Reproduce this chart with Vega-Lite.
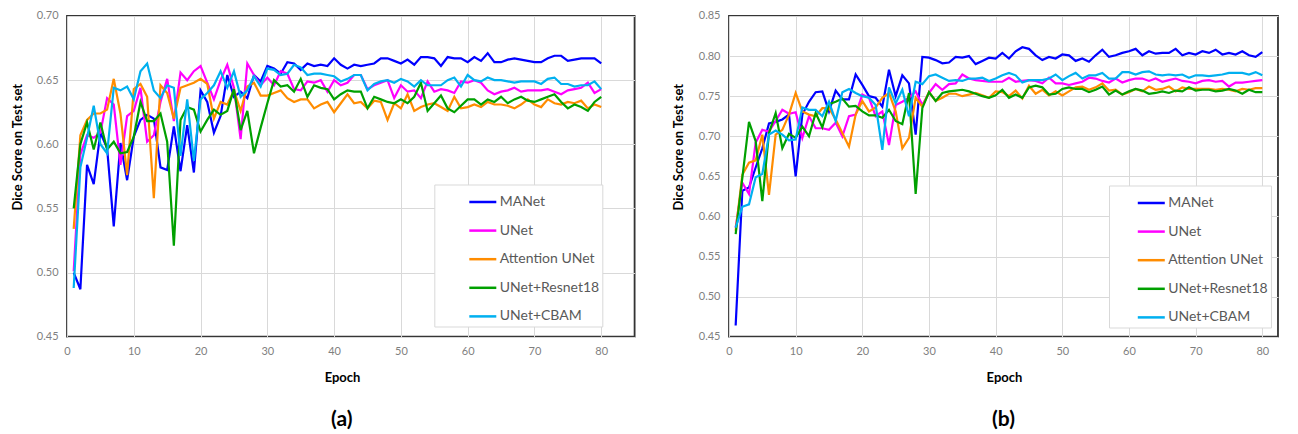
{
"$schema":"https://vega.github.io/schema/vega-lite/v6.json",
"padding":{"left":10,"top":9,"right":0,"bottom":0},
"spacing":36,
"config":{
 "font":"Lato",
 "view":{"stroke":"#333333","strokeWidth":1.8},
 "axis":{"grid":true,"gridColor":"#d9d9d9","gridWidth":1,"domain":false,"ticks":false,"tickSize":0,"labelColor":"#7f7f7f","labelFontSize":11,"labelFont":"Lato","titleFont":"Lato","titleFontWeight":"bold","titleColor":"#000000","titleFontSize":13,"labelOverlap":false,"labelFlush":false},
 "legend":{"orient":"none","title":null,"symbolType":"stroke","symbolSize":729,"symbolStrokeWidth":2.5,"labelFontSize":14,"labelColor":"#595959","labelFont":"Lato","strokeColor":"#d9d9d9","fillColor":"white","padding":2.5,"rowPadding":6.6},
 "title":{"orient":"bottom","fontSize":21,"fontWeight":"bold","color":"#000000","font":"Lato","offset":24}
},
"datasets":{
"a":[
{"e":1,"s":"MANet","v":0.500},{"e":2,"s":"MANet","v":0.487},{"e":3,"s":"MANet","v":0.584},{"e":4,"s":"MANet","v":0.569},{"e":5,"s":"MANet","v":0.609},{"e":6,"s":"MANet","v":0.597},{"e":7,"s":"MANet","v":0.536},{"e":8,"s":"MANet","v":0.601},{"e":9,"s":"MANet","v":0.572},{"e":10,"s":"MANet","v":0.606},
{"e":11,"s":"MANet","v":0.619},{"e":12,"s":"MANet","v":0.623},{"e":13,"s":"MANet","v":0.620},{"e":14,"s":"MANet","v":0.582},{"e":15,"s":"MANet","v":0.580},{"e":16,"s":"MANet","v":0.614},{"e":17,"s":"MANet","v":0.579},{"e":18,"s":"MANet","v":0.615},{"e":19,"s":"MANet","v":0.578},{"e":20,"s":"MANet","v":0.642},
{"e":21,"s":"MANet","v":0.633},{"e":22,"s":"MANet","v":0.609},{"e":23,"s":"MANet","v":0.622},{"e":24,"s":"MANet","v":0.654},{"e":25,"s":"MANet","v":0.637},{"e":26,"s":"MANet","v":0.641},{"e":27,"s":"MANet","v":0.636},{"e":28,"s":"MANet","v":0.654},{"e":29,"s":"MANet","v":0.649},{"e":30,"s":"MANet","v":0.661},
{"e":31,"s":"MANet","v":0.659},{"e":32,"s":"MANet","v":0.655},{"e":33,"s":"MANet","v":0.664},{"e":34,"s":"MANet","v":0.663},{"e":35,"s":"MANet","v":0.658},{"e":36,"s":"MANet","v":0.663},{"e":37,"s":"MANet","v":0.661},{"e":38,"s":"MANet","v":0.662},{"e":39,"s":"MANet","v":0.661},{"e":40,"s":"MANet","v":0.667},
{"e":41,"s":"MANet","v":0.662},{"e":42,"s":"MANet","v":0.659},{"e":43,"s":"MANet","v":0.662},{"e":44,"s":"MANet","v":0.661},{"e":45,"s":"MANet","v":0.662},{"e":46,"s":"MANet","v":0.663},{"e":47,"s":"MANet","v":0.667},{"e":48,"s":"MANet","v":0.667},{"e":49,"s":"MANet","v":0.665},{"e":50,"s":"MANet","v":0.663},
{"e":51,"s":"MANet","v":0.666},{"e":52,"s":"MANet","v":0.662},{"e":53,"s":"MANet","v":0.668},{"e":54,"s":"MANet","v":0.668},{"e":55,"s":"MANet","v":0.667},{"e":56,"s":"MANet","v":0.661},{"e":57,"s":"MANet","v":0.668},{"e":58,"s":"MANet","v":0.667},{"e":59,"s":"MANet","v":0.667},{"e":60,"s":"MANet","v":0.664},
{"e":61,"s":"MANet","v":0.668},{"e":62,"s":"MANet","v":0.665},{"e":63,"s":"MANet","v":0.671},{"e":64,"s":"MANet","v":0.664},{"e":65,"s":"MANet","v":0.664},{"e":66,"s":"MANet","v":0.666},{"e":67,"s":"MANet","v":0.667},{"e":68,"s":"MANet","v":0.666},{"e":69,"s":"MANet","v":0.665},{"e":70,"s":"MANet","v":0.664},
{"e":71,"s":"MANet","v":0.664},{"e":72,"s":"MANet","v":0.667},{"e":73,"s":"MANet","v":0.669},{"e":74,"s":"MANet","v":0.669},{"e":75,"s":"MANet","v":0.665},{"e":76,"s":"MANet","v":0.666},{"e":77,"s":"MANet","v":0.667},{"e":78,"s":"MANet","v":0.667},{"e":79,"s":"MANet","v":0.667},{"e":80,"s":"MANet","v":0.663},
{"e":1,"s":"UNet","v":0.501},{"e":2,"s":"UNet","v":0.592},{"e":3,"s":"UNet","v":0.607},{"e":4,"s":"UNet","v":0.605},{"e":5,"s":"UNet","v":0.609},{"e":6,"s":"UNet","v":0.636},{"e":7,"s":"UNet","v":0.631},{"e":8,"s":"UNet","v":0.584},{"e":9,"s":"UNet","v":0.622},{"e":10,"s":"UNet","v":0.626},
{"e":11,"s":"UNet","v":0.644},{"e":12,"s":"UNet","v":0.602},{"e":13,"s":"UNet","v":0.607},{"e":14,"s":"UNet","v":0.633},{"e":15,"s":"UNet","v":0.651},{"e":16,"s":"UNet","v":0.618},{"e":17,"s":"UNet","v":0.656},{"e":18,"s":"UNet","v":0.650},{"e":19,"s":"UNet","v":0.657},{"e":20,"s":"UNet","v":0.661},
{"e":21,"s":"UNet","v":0.648},{"e":22,"s":"UNet","v":0.635},{"e":23,"s":"UNet","v":0.650},{"e":24,"s":"UNet","v":0.662},{"e":25,"s":"UNet","v":0.644},{"e":26,"s":"UNet","v":0.604},{"e":27,"s":"UNet","v":0.663},{"e":28,"s":"UNet","v":0.654},{"e":29,"s":"UNet","v":0.646},{"e":30,"s":"UNet","v":0.652},
{"e":31,"s":"UNet","v":0.646},{"e":32,"s":"UNet","v":0.657},{"e":33,"s":"UNet","v":0.655},{"e":34,"s":"UNet","v":0.643},{"e":35,"s":"UNet","v":0.642},{"e":36,"s":"UNet","v":0.649},{"e":37,"s":"UNet","v":0.648},{"e":38,"s":"UNet","v":0.650},{"e":39,"s":"UNet","v":0.641},{"e":40,"s":"UNet","v":0.650},
{"e":41,"s":"UNet","v":0.646},{"e":42,"s":"UNet","v":0.648},{"e":43,"s":"UNet","v":0.654},{"e":44,"s":"UNet","v":0.654},{"e":45,"s":"UNet","v":0.643},{"e":46,"s":"UNet","v":0.646},{"e":47,"s":"UNet","v":0.648},{"e":48,"s":"UNet","v":0.650},{"e":49,"s":"UNet","v":0.636},{"e":50,"s":"UNet","v":0.646},
{"e":51,"s":"UNet","v":0.641},{"e":52,"s":"UNet","v":0.642},{"e":53,"s":"UNet","v":0.636},{"e":54,"s":"UNet","v":0.649},{"e":55,"s":"UNet","v":0.641},{"e":56,"s":"UNet","v":0.643},{"e":57,"s":"UNet","v":0.642},{"e":58,"s":"UNet","v":0.640},{"e":59,"s":"UNet","v":0.649},{"e":60,"s":"UNet","v":0.648},
{"e":61,"s":"UNet","v":0.650},{"e":62,"s":"UNet","v":0.648},{"e":63,"s":"UNet","v":0.642},{"e":64,"s":"UNet","v":0.639},{"e":65,"s":"UNet","v":0.641},{"e":66,"s":"UNet","v":0.642},{"e":67,"s":"UNet","v":0.644},{"e":68,"s":"UNet","v":0.641},{"e":69,"s":"UNet","v":0.642},{"e":70,"s":"UNet","v":0.642},
{"e":71,"s":"UNet","v":0.642},{"e":72,"s":"UNet","v":0.643},{"e":73,"s":"UNet","v":0.641},{"e":74,"s":"UNet","v":0.639},{"e":75,"s":"UNet","v":0.642},{"e":76,"s":"UNet","v":0.643},{"e":77,"s":"UNet","v":0.644},{"e":78,"s":"UNet","v":0.648},{"e":79,"s":"UNet","v":0.640},{"e":80,"s":"UNet","v":0.643},
{"e":1,"s":"Attention UNet","v":0.534},{"e":2,"s":"Attention UNet","v":0.607},{"e":3,"s":"Attention UNet","v":0.619},{"e":4,"s":"Attention UNet","v":0.624},{"e":5,"s":"Attention UNet","v":0.624},{"e":6,"s":"Attention UNet","v":0.627},{"e":7,"s":"Attention UNet","v":0.651},{"e":8,"s":"Attention UNet","v":0.624},{"e":9,"s":"Attention UNet","v":0.576},{"e":10,"s":"Attention UNet","v":0.643},
{"e":11,"s":"Attention UNet","v":0.647},{"e":12,"s":"Attention UNet","v":0.637},{"e":13,"s":"Attention UNet","v":0.558},{"e":14,"s":"Attention UNet","v":0.646},{"e":15,"s":"Attention UNet","v":0.640},{"e":16,"s":"Attention UNet","v":0.620},{"e":17,"s":"Attention UNet","v":0.644},{"e":18,"s":"Attention UNet","v":0.646},{"e":19,"s":"Attention UNet","v":0.648},{"e":20,"s":"Attention UNet","v":0.651},
{"e":21,"s":"Attention UNet","v":0.647},{"e":22,"s":"Attention UNet","v":0.620},{"e":23,"s":"Attention UNet","v":0.633},{"e":24,"s":"Attention UNet","v":0.631},{"e":25,"s":"Attention UNet","v":0.642},{"e":26,"s":"Attention UNet","v":0.626},{"e":27,"s":"Attention UNet","v":0.645},{"e":28,"s":"Attention UNet","v":0.648},{"e":29,"s":"Attention UNet","v":0.638},{"e":30,"s":"Attention UNet","v":0.638},
{"e":31,"s":"Attention UNet","v":0.640},{"e":32,"s":"Attention UNet","v":0.642},{"e":33,"s":"Attention UNet","v":0.636},{"e":34,"s":"Attention UNet","v":0.633},{"e":35,"s":"Attention UNet","v":0.635},{"e":36,"s":"Attention UNet","v":0.635},{"e":37,"s":"Attention UNet","v":0.628},{"e":38,"s":"Attention UNet","v":0.631},{"e":39,"s":"Attention UNet","v":0.633},{"e":40,"s":"Attention UNet","v":0.625},
{"e":41,"s":"Attention UNet","v":0.632},{"e":42,"s":"Attention UNet","v":0.639},{"e":43,"s":"Attention UNet","v":0.632},{"e":44,"s":"Attention UNet","v":0.633},{"e":45,"s":"Attention UNet","v":0.628},{"e":46,"s":"Attention UNet","v":0.634},{"e":47,"s":"Attention UNet","v":0.633},{"e":48,"s":"Attention UNet","v":0.619},{"e":49,"s":"Attention UNet","v":0.632},{"e":50,"s":"Attention UNet","v":0.628},
{"e":51,"s":"Attention UNet","v":0.639},{"e":52,"s":"Attention UNet","v":0.626},{"e":53,"s":"Attention UNet","v":0.629},{"e":54,"s":"Attention UNet","v":0.631},{"e":55,"s":"Attention UNet","v":0.632},{"e":56,"s":"Attention UNet","v":0.629},{"e":57,"s":"Attention UNet","v":0.626},{"e":58,"s":"Attention UNet","v":0.637},{"e":59,"s":"Attention UNet","v":0.628},{"e":60,"s":"Attention UNet","v":0.629},
{"e":61,"s":"Attention UNet","v":0.631},{"e":62,"s":"Attention UNet","v":0.629},{"e":63,"s":"Attention UNet","v":0.633},{"e":64,"s":"Attention UNet","v":0.631},{"e":65,"s":"Attention UNet","v":0.631},{"e":66,"s":"Attention UNet","v":0.630},{"e":67,"s":"Attention UNet","v":0.628},{"e":68,"s":"Attention UNet","v":0.631},{"e":69,"s":"Attention UNet","v":0.635},{"e":70,"s":"Attention UNet","v":0.631},
{"e":71,"s":"Attention UNet","v":0.629},{"e":72,"s":"Attention UNet","v":0.635},{"e":73,"s":"Attention UNet","v":0.632},{"e":74,"s":"Attention UNet","v":0.631},{"e":75,"s":"Attention UNet","v":0.633},{"e":76,"s":"Attention UNet","v":0.632},{"e":77,"s":"Attention UNet","v":0.634},{"e":78,"s":"Attention UNet","v":0.628},{"e":79,"s":"Attention UNet","v":0.631},{"e":80,"s":"Attention UNet","v":0.629},
{"e":1,"s":"UNet+Resnet18","v":0.550},{"e":2,"s":"UNet+Resnet18","v":0.600},{"e":3,"s":"UNet+Resnet18","v":0.617},{"e":4,"s":"UNet+Resnet18","v":0.596},{"e":5,"s":"UNet+Resnet18","v":0.617},{"e":6,"s":"UNet+Resnet18","v":0.596},{"e":7,"s":"UNet+Resnet18","v":0.602},{"e":8,"s":"UNet+Resnet18","v":0.593},{"e":9,"s":"UNet+Resnet18","v":0.594},{"e":10,"s":"UNet+Resnet18","v":0.606},
{"e":11,"s":"UNet+Resnet18","v":0.633},{"e":12,"s":"UNet+Resnet18","v":0.618},{"e":13,"s":"UNet+Resnet18","v":0.618},{"e":14,"s":"UNet+Resnet18","v":0.624},{"e":15,"s":"UNet+Resnet18","v":0.602},{"e":16,"s":"UNet+Resnet18","v":0.521},{"e":17,"s":"UNet+Resnet18","v":0.619},{"e":18,"s":"UNet+Resnet18","v":0.629},{"e":19,"s":"UNet+Resnet18","v":0.627},{"e":20,"s":"UNet+Resnet18","v":0.610},
{"e":21,"s":"UNet+Resnet18","v":0.619},{"e":22,"s":"UNet+Resnet18","v":0.627},{"e":23,"s":"UNet+Resnet18","v":0.623},{"e":24,"s":"UNet+Resnet18","v":0.626},{"e":25,"s":"UNet+Resnet18","v":0.643},{"e":26,"s":"UNet+Resnet18","v":0.611},{"e":27,"s":"UNet+Resnet18","v":0.626},{"e":28,"s":"UNet+Resnet18","v":0.593},{"e":29,"s":"UNet+Resnet18","v":0.613},{"e":30,"s":"UNet+Resnet18","v":0.632},
{"e":31,"s":"UNet+Resnet18","v":0.650},{"e":32,"s":"UNet+Resnet18","v":0.645},{"e":33,"s":"UNet+Resnet18","v":0.646},{"e":34,"s":"UNet+Resnet18","v":0.641},{"e":35,"s":"UNet+Resnet18","v":0.651},{"e":36,"s":"UNet+Resnet18","v":0.637},{"e":37,"s":"UNet+Resnet18","v":0.646},{"e":38,"s":"UNet+Resnet18","v":0.644},{"e":39,"s":"UNet+Resnet18","v":0.643},{"e":40,"s":"UNet+Resnet18","v":0.635},
{"e":41,"s":"UNet+Resnet18","v":0.639},{"e":42,"s":"UNet+Resnet18","v":0.642},{"e":43,"s":"UNet+Resnet18","v":0.641},{"e":44,"s":"UNet+Resnet18","v":0.641},{"e":45,"s":"UNet+Resnet18","v":0.628},{"e":46,"s":"UNet+Resnet18","v":0.637},{"e":47,"s":"UNet+Resnet18","v":0.635},{"e":48,"s":"UNet+Resnet18","v":0.633},{"e":49,"s":"UNet+Resnet18","v":0.632},{"e":50,"s":"UNet+Resnet18","v":0.635},
{"e":51,"s":"UNet+Resnet18","v":0.632},{"e":52,"s":"UNet+Resnet18","v":0.637},{"e":53,"s":"UNet+Resnet18","v":0.648},{"e":54,"s":"UNet+Resnet18","v":0.626},{"e":55,"s":"UNet+Resnet18","v":0.632},{"e":56,"s":"UNet+Resnet18","v":0.638},{"e":57,"s":"UNet+Resnet18","v":0.628},{"e":58,"s":"UNet+Resnet18","v":0.625},{"e":59,"s":"UNet+Resnet18","v":0.630},{"e":60,"s":"UNet+Resnet18","v":0.635},
{"e":61,"s":"UNet+Resnet18","v":0.635},{"e":62,"s":"UNet+Resnet18","v":0.631},{"e":63,"s":"UNet+Resnet18","v":0.635},{"e":64,"s":"UNet+Resnet18","v":0.633},{"e":65,"s":"UNet+Resnet18","v":0.637},{"e":66,"s":"UNet+Resnet18","v":0.632},{"e":67,"s":"UNet+Resnet18","v":0.635},{"e":68,"s":"UNet+Resnet18","v":0.637},{"e":69,"s":"UNet+Resnet18","v":0.634},{"e":70,"s":"UNet+Resnet18","v":0.633},
{"e":71,"s":"UNet+Resnet18","v":0.635},{"e":72,"s":"UNet+Resnet18","v":0.637},{"e":73,"s":"UNet+Resnet18","v":0.639},{"e":74,"s":"UNet+Resnet18","v":0.633},{"e":75,"s":"UNet+Resnet18","v":0.628},{"e":76,"s":"UNet+Resnet18","v":0.631},{"e":77,"s":"UNet+Resnet18","v":0.629},{"e":78,"s":"UNet+Resnet18","v":0.626},{"e":79,"s":"UNet+Resnet18","v":0.633},{"e":80,"s":"UNet+Resnet18","v":0.637},
{"e":1,"s":"UNet+CBAM","v":0.488},{"e":2,"s":"UNet+CBAM","v":0.582},{"e":3,"s":"UNet+CBAM","v":0.605},{"e":4,"s":"UNet+CBAM","v":0.630},{"e":5,"s":"UNet+CBAM","v":0.600},{"e":6,"s":"UNet+CBAM","v":0.593},{"e":7,"s":"UNet+CBAM","v":0.644},{"e":8,"s":"UNet+CBAM","v":0.642},{"e":9,"s":"UNet+CBAM","v":0.645},{"e":10,"s":"UNet+CBAM","v":0.635},
{"e":11,"s":"UNet+CBAM","v":0.657},{"e":12,"s":"UNet+CBAM","v":0.663},{"e":13,"s":"UNet+CBAM","v":0.642},{"e":14,"s":"UNet+CBAM","v":0.636},{"e":15,"s":"UNet+CBAM","v":0.646},{"e":16,"s":"UNet+CBAM","v":0.644},{"e":17,"s":"UNet+CBAM","v":0.591},{"e":18,"s":"UNet+CBAM","v":0.635},{"e":19,"s":"UNet+CBAM","v":0.587},{"e":20,"s":"UNet+CBAM","v":0.635},
{"e":21,"s":"UNet+CBAM","v":0.640},{"e":22,"s":"UNet+CBAM","v":0.646},{"e":23,"s":"UNet+CBAM","v":0.657},{"e":24,"s":"UNet+CBAM","v":0.644},{"e":25,"s":"UNet+CBAM","v":0.657},{"e":26,"s":"UNet+CBAM","v":0.637},{"e":27,"s":"UNet+CBAM","v":0.642},{"e":28,"s":"UNet+CBAM","v":0.653},{"e":29,"s":"UNet+CBAM","v":0.645},{"e":30,"s":"UNet+CBAM","v":0.659},
{"e":31,"s":"UNet+CBAM","v":0.658},{"e":32,"s":"UNet+CBAM","v":0.654},{"e":33,"s":"UNet+CBAM","v":0.655},{"e":34,"s":"UNet+CBAM","v":0.662},{"e":35,"s":"UNet+CBAM","v":0.660},{"e":36,"s":"UNet+CBAM","v":0.654},{"e":37,"s":"UNet+CBAM","v":0.655},{"e":38,"s":"UNet+CBAM","v":0.655},{"e":39,"s":"UNet+CBAM","v":0.654},{"e":40,"s":"UNet+CBAM","v":0.653},
{"e":41,"s":"UNet+CBAM","v":0.649},{"e":42,"s":"UNet+CBAM","v":0.651},{"e":43,"s":"UNet+CBAM","v":0.654},{"e":44,"s":"UNet+CBAM","v":0.654},{"e":45,"s":"UNet+CBAM","v":0.642},{"e":46,"s":"UNet+CBAM","v":0.647},{"e":47,"s":"UNet+CBAM","v":0.649},{"e":48,"s":"UNet+CBAM","v":0.650},{"e":49,"s":"UNet+CBAM","v":0.648},{"e":50,"s":"UNet+CBAM","v":0.651},
{"e":51,"s":"UNet+CBAM","v":0.649},{"e":52,"s":"UNet+CBAM","v":0.645},{"e":53,"s":"UNet+CBAM","v":0.650},{"e":54,"s":"UNet+CBAM","v":0.646},{"e":55,"s":"UNet+CBAM","v":0.646},{"e":56,"s":"UNet+CBAM","v":0.646},{"e":57,"s":"UNet+CBAM","v":0.650},{"e":58,"s":"UNet+CBAM","v":0.652},{"e":59,"s":"UNet+CBAM","v":0.645},{"e":60,"s":"UNet+CBAM","v":0.654},
{"e":61,"s":"UNet+CBAM","v":0.650},{"e":62,"s":"UNet+CBAM","v":0.649},{"e":63,"s":"UNet+CBAM","v":0.652},{"e":64,"s":"UNet+CBAM","v":0.650},{"e":65,"s":"UNet+CBAM","v":0.650},{"e":66,"s":"UNet+CBAM","v":0.649},{"e":67,"s":"UNet+CBAM","v":0.648},{"e":68,"s":"UNet+CBAM","v":0.649},{"e":69,"s":"UNet+CBAM","v":0.649},{"e":70,"s":"UNet+CBAM","v":0.649},
{"e":71,"s":"UNet+CBAM","v":0.647},{"e":72,"s":"UNet+CBAM","v":0.651},{"e":73,"s":"UNet+CBAM","v":0.652},{"e":74,"s":"UNet+CBAM","v":0.647},{"e":75,"s":"UNet+CBAM","v":0.647},{"e":76,"s":"UNet+CBAM","v":0.645},{"e":77,"s":"UNet+CBAM","v":0.646},{"e":78,"s":"UNet+CBAM","v":0.646},{"e":79,"s":"UNet+CBAM","v":0.649},{"e":80,"s":"UNet+CBAM","v":0.643}
],
"b":[
{"e":1,"s":"MANet","v":0.464},{"e":2,"s":"MANet","v":0.632},{"e":3,"s":"MANet","v":0.636},{"e":4,"s":"MANet","v":0.661},{"e":5,"s":"MANet","v":0.685},{"e":6,"s":"MANet","v":0.716},{"e":7,"s":"MANet","v":0.718},{"e":8,"s":"MANet","v":0.721},{"e":9,"s":"MANet","v":0.727},{"e":10,"s":"MANet","v":0.650},
{"e":11,"s":"MANet","v":0.727},{"e":12,"s":"MANet","v":0.743},{"e":13,"s":"MANet","v":0.755},{"e":14,"s":"MANet","v":0.756},{"e":15,"s":"MANet","v":0.731},{"e":16,"s":"MANet","v":0.757},{"e":17,"s":"MANet","v":0.746},{"e":18,"s":"MANet","v":0.746},{"e":19,"s":"MANet","v":0.777},{"e":20,"s":"MANet","v":0.764},
{"e":21,"s":"MANet","v":0.750},{"e":22,"s":"MANet","v":0.748},{"e":23,"s":"MANet","v":0.737},{"e":24,"s":"MANet","v":0.783},{"e":25,"s":"MANet","v":0.750},{"e":26,"s":"MANet","v":0.776},{"e":27,"s":"MANet","v":0.766},{"e":28,"s":"MANet","v":0.702},{"e":29,"s":"MANet","v":0.799},{"e":30,"s":"MANet","v":0.798},
{"e":31,"s":"MANet","v":0.795},{"e":32,"s":"MANet","v":0.791},{"e":33,"s":"MANet","v":0.792},{"e":34,"s":"MANet","v":0.799},{"e":35,"s":"MANet","v":0.798},{"e":36,"s":"MANet","v":0.800},{"e":37,"s":"MANet","v":0.790},{"e":38,"s":"MANet","v":0.794},{"e":39,"s":"MANet","v":0.798},{"e":40,"s":"MANet","v":0.797},
{"e":41,"s":"MANet","v":0.804},{"e":42,"s":"MANet","v":0.797},{"e":43,"s":"MANet","v":0.806},{"e":44,"s":"MANet","v":0.811},{"e":45,"s":"MANet","v":0.809},{"e":46,"s":"MANet","v":0.801},{"e":47,"s":"MANet","v":0.795},{"e":48,"s":"MANet","v":0.799},{"e":49,"s":"MANet","v":0.797},{"e":50,"s":"MANet","v":0.802},
{"e":51,"s":"MANet","v":0.801},{"e":52,"s":"MANet","v":0.794},{"e":53,"s":"MANet","v":0.797},{"e":54,"s":"MANet","v":0.793},{"e":55,"s":"MANet","v":0.801},{"e":56,"s":"MANet","v":0.808},{"e":57,"s":"MANet","v":0.799},{"e":58,"s":"MANet","v":0.801},{"e":59,"s":"MANet","v":0.804},{"e":60,"s":"MANet","v":0.806},
{"e":61,"s":"MANet","v":0.809},{"e":62,"s":"MANet","v":0.801},{"e":63,"s":"MANet","v":0.806},{"e":64,"s":"MANet","v":0.803},{"e":65,"s":"MANet","v":0.804},{"e":66,"s":"MANet","v":0.804},{"e":67,"s":"MANet","v":0.809},{"e":68,"s":"MANet","v":0.801},{"e":69,"s":"MANet","v":0.804},{"e":70,"s":"MANet","v":0.802},
{"e":71,"s":"MANet","v":0.806},{"e":72,"s":"MANet","v":0.804},{"e":73,"s":"MANet","v":0.808},{"e":74,"s":"MANet","v":0.802},{"e":75,"s":"MANet","v":0.804},{"e":76,"s":"MANet","v":0.802},{"e":77,"s":"MANet","v":0.806},{"e":78,"s":"MANet","v":0.801},{"e":79,"s":"MANet","v":0.799},{"e":80,"s":"MANet","v":0.805},
{"e":1,"s":"UNet","v":0.586},{"e":2,"s":"UNet","v":0.642},{"e":3,"s":"UNet","v":0.628},{"e":4,"s":"UNet","v":0.692},{"e":5,"s":"UNet","v":0.708},{"e":6,"s":"UNet","v":0.706},{"e":7,"s":"UNet","v":0.719},{"e":8,"s":"UNet","v":0.733},{"e":9,"s":"UNet","v":0.728},{"e":10,"s":"UNet","v":0.730},
{"e":11,"s":"UNet","v":0.698},{"e":12,"s":"UNet","v":0.725},{"e":13,"s":"UNet","v":0.710},{"e":14,"s":"UNet","v":0.710},{"e":15,"s":"UNet","v":0.708},{"e":16,"s":"UNet","v":0.717},{"e":17,"s":"UNet","v":0.700},{"e":18,"s":"UNet","v":0.725},{"e":19,"s":"UNet","v":0.727},{"e":20,"s":"UNet","v":0.752},
{"e":21,"s":"UNet","v":0.748},{"e":22,"s":"UNet","v":0.725},{"e":23,"s":"UNet","v":0.731},{"e":24,"s":"UNet","v":0.689},{"e":25,"s":"UNet","v":0.739},{"e":26,"s":"UNet","v":0.743},{"e":27,"s":"UNet","v":0.748},{"e":28,"s":"UNet","v":0.756},{"e":29,"s":"UNet","v":0.739},{"e":30,"s":"UNet","v":0.754},
{"e":31,"s":"UNet","v":0.765},{"e":32,"s":"UNet","v":0.758},{"e":33,"s":"UNet","v":0.765},{"e":34,"s":"UNet","v":0.766},{"e":35,"s":"UNet","v":0.777},{"e":36,"s":"UNet","v":0.772},{"e":37,"s":"UNet","v":0.770},{"e":38,"s":"UNet","v":0.769},{"e":39,"s":"UNet","v":0.768},{"e":40,"s":"UNet","v":0.768},
{"e":41,"s":"UNet","v":0.768},{"e":42,"s":"UNet","v":0.773},{"e":43,"s":"UNet","v":0.768},{"e":44,"s":"UNet","v":0.769},{"e":45,"s":"UNet","v":0.770},{"e":46,"s":"UNet","v":0.769},{"e":47,"s":"UNet","v":0.766},{"e":48,"s":"UNet","v":0.773},{"e":49,"s":"UNet","v":0.766},{"e":50,"s":"UNet","v":0.766},
{"e":51,"s":"UNet","v":0.764},{"e":52,"s":"UNet","v":0.766},{"e":53,"s":"UNet","v":0.768},{"e":54,"s":"UNet","v":0.773},{"e":55,"s":"UNet","v":0.772},{"e":56,"s":"UNet","v":0.769},{"e":57,"s":"UNet","v":0.767},{"e":58,"s":"UNet","v":0.772},{"e":59,"s":"UNet","v":0.767},{"e":60,"s":"UNet","v":0.770},
{"e":61,"s":"UNet","v":0.772},{"e":62,"s":"UNet","v":0.772},{"e":63,"s":"UNet","v":0.769},{"e":64,"s":"UNet","v":0.772},{"e":65,"s":"UNet","v":0.768},{"e":66,"s":"UNet","v":0.770},{"e":67,"s":"UNet","v":0.772},{"e":68,"s":"UNet","v":0.769},{"e":69,"s":"UNet","v":0.768},{"e":70,"s":"UNet","v":0.766},
{"e":71,"s":"UNet","v":0.769},{"e":72,"s":"UNet","v":0.770},{"e":73,"s":"UNet","v":0.768},{"e":74,"s":"UNet","v":0.769},{"e":75,"s":"UNet","v":0.762},{"e":76,"s":"UNet","v":0.767},{"e":77,"s":"UNet","v":0.767},{"e":78,"s":"UNet","v":0.768},{"e":79,"s":"UNet","v":0.769},{"e":80,"s":"UNet","v":0.770},
{"e":1,"s":"Attention UNet","v":0.582},{"e":2,"s":"Attention UNet","v":0.652},{"e":3,"s":"Attention UNet","v":0.667},{"e":4,"s":"Attention UNet","v":0.670},{"e":5,"s":"Attention UNet","v":0.702},{"e":6,"s":"Attention UNet","v":0.627},{"e":7,"s":"Attention UNet","v":0.702},{"e":8,"s":"Attention UNet","v":0.708},{"e":9,"s":"Attention UNet","v":0.727},{"e":10,"s":"Attention UNet","v":0.754},
{"e":11,"s":"Attention UNet","v":0.731},{"e":12,"s":"Attention UNet","v":0.727},{"e":13,"s":"Attention UNet","v":0.725},{"e":14,"s":"Attention UNet","v":0.735},{"e":15,"s":"Attention UNet","v":0.735},{"e":16,"s":"Attention UNet","v":0.721},{"e":17,"s":"Attention UNet","v":0.704},{"e":18,"s":"Attention UNet","v":0.687},{"e":19,"s":"Attention UNet","v":0.727},{"e":20,"s":"Attention UNet","v":0.744},
{"e":21,"s":"Attention UNet","v":0.731},{"e":22,"s":"Attention UNet","v":0.736},{"e":23,"s":"Attention UNet","v":0.748},{"e":24,"s":"Attention UNet","v":0.754},{"e":25,"s":"Attention UNet","v":0.731},{"e":26,"s":"Attention UNet","v":0.685},{"e":27,"s":"Attention UNet","v":0.698},{"e":28,"s":"Attention UNet","v":0.748},{"e":29,"s":"Attention UNet","v":0.737},{"e":30,"s":"Attention UNet","v":0.755},
{"e":31,"s":"Attention UNet","v":0.744},{"e":32,"s":"Attention UNet","v":0.748},{"e":33,"s":"Attention UNet","v":0.753},{"e":34,"s":"Attention UNet","v":0.753},{"e":35,"s":"Attention UNet","v":0.750},{"e":36,"s":"Attention UNet","v":0.752},{"e":37,"s":"Attention UNet","v":0.754},{"e":38,"s":"Attention UNet","v":0.751},{"e":39,"s":"Attention UNet","v":0.748},{"e":40,"s":"Attention UNet","v":0.756},
{"e":41,"s":"Attention UNet","v":0.755},{"e":42,"s":"Attention UNet","v":0.750},{"e":43,"s":"Attention UNet","v":0.757},{"e":44,"s":"Attention UNet","v":0.747},{"e":45,"s":"Attention UNet","v":0.763},{"e":46,"s":"Attention UNet","v":0.753},{"e":47,"s":"Attention UNet","v":0.758},{"e":48,"s":"Attention UNet","v":0.751},{"e":49,"s":"Attention UNet","v":0.756},{"e":50,"s":"Attention UNet","v":0.751},
{"e":51,"s":"Attention UNet","v":0.756},{"e":52,"s":"Attention UNet","v":0.761},{"e":53,"s":"Attention UNet","v":0.762},{"e":54,"s":"Attention UNet","v":0.758},{"e":55,"s":"Attention UNet","v":0.761},{"e":56,"s":"Attention UNet","v":0.766},{"e":57,"s":"Attention UNet","v":0.757},{"e":58,"s":"Attention UNet","v":0.758},{"e":59,"s":"Attention UNet","v":0.752},{"e":60,"s":"Attention UNet","v":0.755},
{"e":61,"s":"Attention UNet","v":0.759},{"e":62,"s":"Attention UNet","v":0.756},{"e":63,"s":"Attention UNet","v":0.762},{"e":64,"s":"Attention UNet","v":0.758},{"e":65,"s":"Attention UNet","v":0.759},{"e":66,"s":"Attention UNet","v":0.762},{"e":67,"s":"Attention UNet","v":0.756},{"e":68,"s":"Attention UNet","v":0.761},{"e":69,"s":"Attention UNet","v":0.759},{"e":70,"s":"Attention UNet","v":0.759},
{"e":71,"s":"Attention UNet","v":0.759},{"e":72,"s":"Attention UNet","v":0.759},{"e":73,"s":"Attention UNet","v":0.758},{"e":74,"s":"Attention UNet","v":0.759},{"e":75,"s":"Attention UNet","v":0.758},{"e":76,"s":"Attention UNet","v":0.756},{"e":77,"s":"Attention UNet","v":0.759},{"e":78,"s":"Attention UNet","v":0.758},{"e":79,"s":"Attention UNet","v":0.760},{"e":80,"s":"Attention UNet","v":0.760},
{"e":1,"s":"UNet+Resnet18","v":0.578},{"e":2,"s":"UNet+Resnet18","v":0.648},{"e":3,"s":"UNet+Resnet18","v":0.718},{"e":4,"s":"UNet+Resnet18","v":0.694},{"e":5,"s":"UNet+Resnet18","v":0.619},{"e":6,"s":"UNet+Resnet18","v":0.704},{"e":7,"s":"UNet+Resnet18","v":0.729},{"e":8,"s":"UNet+Resnet18","v":0.685},{"e":9,"s":"UNet+Resnet18","v":0.703},{"e":10,"s":"UNet+Resnet18","v":0.698},
{"e":11,"s":"UNet+Resnet18","v":0.712},{"e":12,"s":"UNet+Resnet18","v":0.700},{"e":13,"s":"UNet+Resnet18","v":0.729},{"e":14,"s":"UNet+Resnet18","v":0.711},{"e":15,"s":"UNet+Resnet18","v":0.740},{"e":16,"s":"UNet+Resnet18","v":0.743},{"e":17,"s":"UNet+Resnet18","v":0.747},{"e":18,"s":"UNet+Resnet18","v":0.737},{"e":19,"s":"UNet+Resnet18","v":0.738},{"e":20,"s":"UNet+Resnet18","v":0.731},
{"e":21,"s":"UNet+Resnet18","v":0.726},{"e":22,"s":"UNet+Resnet18","v":0.726},{"e":23,"s":"UNet+Resnet18","v":0.723},{"e":24,"s":"UNet+Resnet18","v":0.733},{"e":25,"s":"UNet+Resnet18","v":0.719},{"e":26,"s":"UNet+Resnet18","v":0.715},{"e":27,"s":"UNet+Resnet18","v":0.754},{"e":28,"s":"UNet+Resnet18","v":0.628},{"e":29,"s":"UNet+Resnet18","v":0.735},{"e":30,"s":"UNet+Resnet18","v":0.755},
{"e":31,"s":"UNet+Resnet18","v":0.744},{"e":32,"s":"UNet+Resnet18","v":0.754},{"e":33,"s":"UNet+Resnet18","v":0.756},{"e":34,"s":"UNet+Resnet18","v":0.757},{"e":35,"s":"UNet+Resnet18","v":0.758},{"e":36,"s":"UNet+Resnet18","v":0.756},{"e":37,"s":"UNet+Resnet18","v":0.753},{"e":38,"s":"UNet+Resnet18","v":0.750},{"e":39,"s":"UNet+Resnet18","v":0.748},{"e":40,"s":"UNet+Resnet18","v":0.751},
{"e":41,"s":"UNet+Resnet18","v":0.758},{"e":42,"s":"UNet+Resnet18","v":0.748},{"e":43,"s":"UNet+Resnet18","v":0.752},{"e":44,"s":"UNet+Resnet18","v":0.748},{"e":45,"s":"UNet+Resnet18","v":0.761},{"e":46,"s":"UNet+Resnet18","v":0.763},{"e":47,"s":"UNet+Resnet18","v":0.761},{"e":48,"s":"UNet+Resnet18","v":0.752},{"e":49,"s":"UNet+Resnet18","v":0.753},{"e":50,"s":"UNet+Resnet18","v":0.759},
{"e":51,"s":"UNet+Resnet18","v":0.761},{"e":52,"s":"UNet+Resnet18","v":0.759},{"e":53,"s":"UNet+Resnet18","v":0.759},{"e":54,"s":"UNet+Resnet18","v":0.755},{"e":55,"s":"UNet+Resnet18","v":0.758},{"e":56,"s":"UNet+Resnet18","v":0.762},{"e":57,"s":"UNet+Resnet18","v":0.752},{"e":58,"s":"UNet+Resnet18","v":0.757},{"e":59,"s":"UNet+Resnet18","v":0.752},{"e":60,"s":"UNet+Resnet18","v":0.756},
{"e":61,"s":"UNet+Resnet18","v":0.759},{"e":62,"s":"UNet+Resnet18","v":0.757},{"e":63,"s":"UNet+Resnet18","v":0.753},{"e":64,"s":"UNet+Resnet18","v":0.754},{"e":65,"s":"UNet+Resnet18","v":0.756},{"e":66,"s":"UNet+Resnet18","v":0.754},{"e":67,"s":"UNet+Resnet18","v":0.757},{"e":68,"s":"UNet+Resnet18","v":0.756},{"e":69,"s":"UNet+Resnet18","v":0.761},{"e":70,"s":"UNet+Resnet18","v":0.757},
{"e":71,"s":"UNet+Resnet18","v":0.758},{"e":72,"s":"UNet+Resnet18","v":0.758},{"e":73,"s":"UNet+Resnet18","v":0.756},{"e":74,"s":"UNet+Resnet18","v":0.757},{"e":75,"s":"UNet+Resnet18","v":0.759},{"e":76,"s":"UNet+Resnet18","v":0.757},{"e":77,"s":"UNet+Resnet18","v":0.753},{"e":78,"s":"UNet+Resnet18","v":0.758},{"e":79,"s":"UNet+Resnet18","v":0.755},{"e":80,"s":"UNet+Resnet18","v":0.755},
{"e":1,"s":"UNet+CBAM","v":0.586},{"e":2,"s":"UNet+CBAM","v":0.612},{"e":3,"s":"UNet+CBAM","v":0.615},{"e":4,"s":"UNet+CBAM","v":0.649},{"e":5,"s":"UNet+CBAM","v":0.653},{"e":6,"s":"UNet+CBAM","v":0.702},{"e":7,"s":"UNet+CBAM","v":0.707},{"e":8,"s":"UNet+CBAM","v":0.702},{"e":9,"s":"UNet+CBAM","v":0.695},{"e":10,"s":"UNet+CBAM","v":0.696},
{"e":11,"s":"UNet+CBAM","v":0.736},{"e":12,"s":"UNet+CBAM","v":0.733},{"e":13,"s":"UNet+CBAM","v":0.733},{"e":14,"s":"UNet+CBAM","v":0.725},{"e":15,"s":"UNet+CBAM","v":0.743},{"e":16,"s":"UNet+CBAM","v":0.719},{"e":17,"s":"UNet+CBAM","v":0.755},{"e":18,"s":"UNet+CBAM","v":0.759},{"e":19,"s":"UNet+CBAM","v":0.754},{"e":20,"s":"UNet+CBAM","v":0.750},
{"e":21,"s":"UNet+CBAM","v":0.748},{"e":22,"s":"UNet+CBAM","v":0.739},{"e":23,"s":"UNet+CBAM","v":0.683},{"e":24,"s":"UNet+CBAM","v":0.761},{"e":25,"s":"UNet+CBAM","v":0.741},{"e":26,"s":"UNet+CBAM","v":0.758},{"e":27,"s":"UNet+CBAM","v":0.725},{"e":28,"s":"UNet+CBAM","v":0.768},{"e":29,"s":"UNet+CBAM","v":0.765},{"e":30,"s":"UNet+CBAM","v":0.775},
{"e":31,"s":"UNet+CBAM","v":0.777},{"e":32,"s":"UNet+CBAM","v":0.773},{"e":33,"s":"UNet+CBAM","v":0.769},{"e":34,"s":"UNet+CBAM","v":0.770},{"e":35,"s":"UNet+CBAM","v":0.769},{"e":36,"s":"UNet+CBAM","v":0.772},{"e":37,"s":"UNet+CBAM","v":0.772},{"e":38,"s":"UNet+CBAM","v":0.773},{"e":39,"s":"UNet+CBAM","v":0.769},{"e":40,"s":"UNet+CBAM","v":0.772},
{"e":41,"s":"UNet+CBAM","v":0.776},{"e":42,"s":"UNet+CBAM","v":0.779},{"e":43,"s":"UNet+CBAM","v":0.776},{"e":44,"s":"UNet+CBAM","v":0.767},{"e":45,"s":"UNet+CBAM","v":0.770},{"e":46,"s":"UNet+CBAM","v":0.770},{"e":47,"s":"UNet+CBAM","v":0.770},{"e":48,"s":"UNet+CBAM","v":0.772},{"e":49,"s":"UNet+CBAM","v":0.777},{"e":50,"s":"UNet+CBAM","v":0.770},
{"e":51,"s":"UNet+CBAM","v":0.775},{"e":52,"s":"UNet+CBAM","v":0.779},{"e":53,"s":"UNet+CBAM","v":0.772},{"e":54,"s":"UNet+CBAM","v":0.776},{"e":55,"s":"UNet+CBAM","v":0.776},{"e":56,"s":"UNet+CBAM","v":0.779},{"e":57,"s":"UNet+CBAM","v":0.772},{"e":58,"s":"UNet+CBAM","v":0.772},{"e":59,"s":"UNet+CBAM","v":0.780},{"e":60,"s":"UNet+CBAM","v":0.780},
{"e":61,"s":"UNet+CBAM","v":0.777},{"e":62,"s":"UNet+CBAM","v":0.780},{"e":63,"s":"UNet+CBAM","v":0.781},{"e":64,"s":"UNet+CBAM","v":0.777},{"e":65,"s":"UNet+CBAM","v":0.776},{"e":66,"s":"UNet+CBAM","v":0.777},{"e":67,"s":"UNet+CBAM","v":0.776},{"e":68,"s":"UNet+CBAM","v":0.777},{"e":69,"s":"UNet+CBAM","v":0.773},{"e":70,"s":"UNet+CBAM","v":0.776},
{"e":71,"s":"UNet+CBAM","v":0.776},{"e":72,"s":"UNet+CBAM","v":0.775},{"e":73,"s":"UNet+CBAM","v":0.776},{"e":74,"s":"UNet+CBAM","v":0.777},{"e":75,"s":"UNet+CBAM","v":0.779},{"e":76,"s":"UNet+CBAM","v":0.779},{"e":77,"s":"UNet+CBAM","v":0.779},{"e":78,"s":"UNet+CBAM","v":0.777},{"e":79,"s":"UNet+CBAM","v":0.780},{"e":80,"s":"UNet+CBAM","v":0.776}
]
},
"hconcat":[
{
 "data":{"name":"a"},
 "width":567.6,"height":320.7,
 "title":{"text":"(a)","dx":-9},
 "mark":{"type":"line","strokeWidth":2.2,"clip":true},
 "encoding":{
  "x":{"field":"e","type":"quantitative","scale":{"domain":[0,85],"nice":false,"zero":false},"axis":{"values":[0,10,20,30,40,50,60,70,80],"title":"Epoch","titleX":275,"labelPadding":9,"titlePadding":15}},
  "y":{"field":"v","type":"quantitative","scale":{"domain":[0.45,0.70],"nice":false,"zero":false},"axis":{"values":[0.45,0.5,0.55,0.6,0.65,0.7],"format":".2f","title":"Dice Score on Test set","titleX":-49.7,"titleY":130.7,"titleBaseline":"middle","labelPadding":9}},
  "color":{"field":"s","type":"nominal","scale":{"domain":["MANet","UNet","Attention UNet","UNet+Resnet18","UNet+CBAM"],"range":["#0000ff","#ff00ff","#ff8c00","#00a000","#00b0f0"]},"legend":{"legendX":367.3,"legendY":168.5,"symbolOffset":31,"labelOffset":2,"labelExpr":"datum.label + '\u2003\u2003\u2003\u2002'"}}
 }
},
{
 "data":{"name":"b"},
 "width":549,"height":320.7,
 "title":{"text":"(b)"},
 "mark":{"type":"line","strokeWidth":2.2,"clip":true},
 "encoding":{
  "x":{"field":"e","type":"quantitative","scale":{"domain":[0,82.35],"nice":false,"zero":false},"axis":{"values":[0,10,20,30,40,50,60,70,80],"title":"Epoch","titleX":275,"labelPadding":9,"titlePadding":15}},
  "y":{"field":"v","type":"quantitative","scale":{"domain":[0.45,0.85],"nice":false,"zero":false},"axis":{"values":[0.45,0.5,0.55,0.6,0.65,0.7,0.75,0.8,0.85],"format":".2f","title":"Dice Score on Test set","titleX":-50,"titleY":130.7,"titleBaseline":"middle","labelPadding":9}},
  "color":{"field":"s","type":"nominal","scale":{"domain":["MANet","UNet","Attention UNet","UNet+Resnet18","UNet+CBAM"],"range":["#0000ff","#ff00ff","#ff8c00","#00a000","#00b0f0"]},"legend":{"legendX":380,"legendY":169.5,"symbolOffset":24.8,"labelOffset":2,"labelExpr":"datum.label + '\u2003\u2002'"}}
 }
}
],
"resolve":{"legend":{"color":"independent"},"scale":{"color":"independent"}}
}
